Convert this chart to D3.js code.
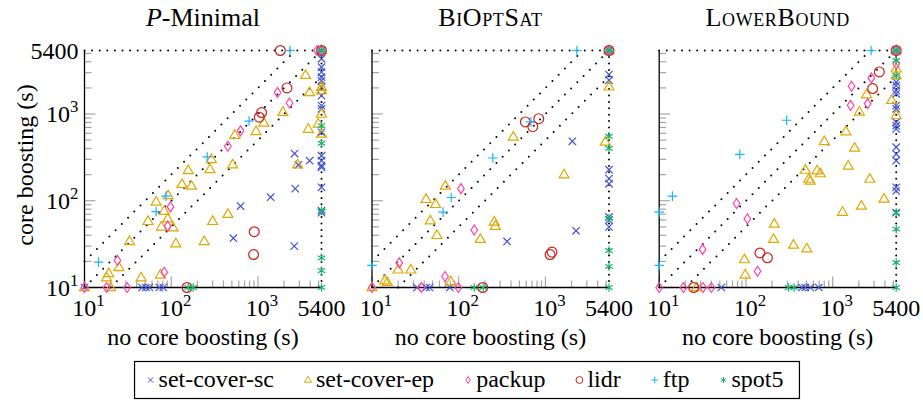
<!DOCTYPE html>
<html>
<head>
<meta charset="utf-8">
<script src="https://cdn.jsdelivr.net/npm/d3@7"></script>
<style>
  body { margin: 0; background: #fff; }
  svg text { font-family: "Liberation Serif", "DejaVu Serif", serif; fill: #000; }
</style>
</head>
<body>
<div id="chart"></div>
<script>
// Series names (legend order)
const seriesNames = ["set-cover-sc", "set-cover-ep", "packup", "lidr", "ftp", "spot5"];

// P-Minimal: [no core boosting, core boosting] in seconds
const pMinSc = [[10,10],[46,10],[51,10],[56,10],[73,10],[81,10],[2640,350],[2920,260],[3940,290],[2690,138],[1400,110],[630,87],[520,37],[2620,30],
  [5400,4330],[5400,3470],[5400,3040],[5400,2660],[5400,2430],[5400,2040],[5400,1630],[5400,1250],[5400,1150],[5400,616],[5400,331],[5400,290],[5400,254],[5400,243],[5400,143],[5400,77],[5400,73],[5400,5400]];
const pMinEp = [[10,10],[20,10],[157,224],[133,155],[171,148],[92,115],[67,97],[83,76],[54,58],[91,62],[77,50],[105,49],[113,32],[33,34],[25,17],[19,14.5],[18,13],[45,13],[75,14],
  [240,34],[450,70],[300,58],[290,300],[280,230],[510,260],[540,570],[950,630],[1170,790],[1940,1050],[3540,2800],[3940,1770],[3800,670],[4950,770],[2860,260],
  [5400,2040],[5400,1860],[5400,1000],[5400,590],[5400,5400]];
const pMinPackup = [[10,10],[18,10],[31,10],[24,20.5],[83,15],[91,51],[98,85],[450,425],[630,640],[1680,1770],[2310,1340],[4800,5400],[5400,5400]];
const pMinLidr = [[152,10],[890,24],[906,44],[1035,920],[1100,1040],[2160,2000],[1810,5400],[5400,5400]];
const pMinFtp = [[14.5,19.6],[67,75],[87,113],[260,320],[790,830],[2340,5400],[5400,5400]];
const pMinSpot5 = [[157,10],[179,10],[5400,735],[5400,460],[5400,77],[5400,22],[5400,15.6],[5400,10],[5400,5400]];

// BiOptSat
const bioSc = [[33,10],[42,10],[46,10],[79,10],[361,34],[2040,485],[2250,45],
  [5400,2850],[5400,2460],[5400,228],[5400,180],[5400,157],[5400,65],[5400,60],[5400,50],[5400,5400]];
const bioEp = [[10,10],[14,12],[15,11.5],[20,16],[28,16],[81,11.7],[42,104],[54,91],[47,59],[56,40],[70,148],[177,36],[257,57],[264,51],[426,544],[1640,200],[4900,476],[5400,2060],[5400,5400]];
const bioPackup = [[10,10],[37,10],[99,10],[20.6,19.2],[69.5,13.4],[151,46],[106,138],[5400,5400]];
const bioLidr = [[189,10],[1130,24],[1190,25.6],[586,811],[714,716],[837,885],[5400,5400]];
const bioFtp = [[10,18],[66,74],[82,109],[247,311],[680,810],[2300,5400],[5400,5400]];
const bioSpot5 = [[151,10],[192,10],[5400,554],[5400,403],[5400,63],[5400,26.7],[5400,17.5],[5400,10],[5400,5400]];

// LowerBound
const lbSc = [[52,10],[443,10],[483,10],[552,10],[690,10],
  [5400,2330],[5400,2130],[5400,1860],[5400,1710],[5400,1250],[5400,1150],[5400,804],[5400,735],[5400,673],[5400,414],[5400,346],[5400,290],[5400,143],[5400,130],[5400,73],[5400,5400]];
const lbEp = [[27,10],[96,21],[98,14],[208,36],[212,54],[354,31],[503,28],[483,226],[659,222],[719,206],[530,178],[552,169],[800,483],[1300,74],[1420,626],[1510,252],[1790,406],
  [2030,1060],[2140,87],[2460,1675],[2680,178],[3910,105],[4780,1440],[5400,3320],[5400,2780],[5400,960],[5400,5400]];
const lbPackup = [[10,10],[19,10],[32,10],[40,10],[31.6,27.5],[78,93],[104,62],[136,15.4],[1610,1260],[1650,2090],[2530,1320],[2790,2610],[5400,3790],[5400,5400]];
const lbLidr = [[25,10],[145,25],[177,22],[2890,1965],[3450,3060],[5400,5400]];
const lbFtp = [[10,18],[10,74],[14.2,113],[85,343],[294,848],[2770,5400],[5400,5400]];
const lbSpot5 = [[310,10],[360,10],[5400,4140],[5400,2780],[5400,73],[5400,47],[5400,19.4],[5400,10],[5400,5400]];

const majorTicks = [10, 100, 1000];
const minorTicks = [20,30,40,50,60,70,80,90,200,300,400,500,600,700,800,900,2000,3000,4000,5000];

const colors = ["#4152d8", "#e0a800", "#ff40a8", "#c8201a", "#19b5fe", "#19b46a"];

// Vakiot
const width = 923, height = 400;
const panelSize = 237;
const panelTop = 50.5;
const panelLeft = [84.5, 372, 659.2];
const fontSize = 24;
const titleSize = 26;
const fontFamily = "Liberation Serif, DejaVu Serif, serif";

const panels = [
  {title: "P-Minimal", series: [pMinSc, pMinEp, pMinPackup, pMinLidr, pMinFtp, pMinSpot5]},
  {title: "BiOptSat", series: [bioSc, bioEp, bioPackup, bioLidr, bioFtp, bioSpot5]},
  {title: "LowerBound", series: [lbSc, lbEp, lbPackup, lbLidr, lbFtp, lbSpot5]}
];

// Marker shapes, k = scale
const shapes = [
  k => `M${-3.7*k},${-3.7*k}L${3.7*k},${3.7*k}M${-3.7*k},${3.7*k}L${3.7*k},${-3.7*k}`,
  k => `M0,${-5.4*k}L${5*k},${3.2*k}L${-5*k},${3.2*k}Z`,
  k => `M0,${-5*k}L${3.3*k},0L0,${5*k}L${-3.3*k},0Z`,
  k => d3.arc()({innerRadius: 0, outerRadius: 4.9*k, startAngle: 0, endAngle: 2*Math.PI}),
  k => `M${-4.8*k},0H${4.8*k}M0,${-4.8*k}V${4.8*k}`,
  k => {
    let s = "";
    for (let a of [90, 30, 150]) {
      const r = a * Math.PI / 180, dx = Math.cos(r)*4.3*k, dy = Math.sin(r)*4.3*k;
      s += `M${-dx},${-dy}L${dx},${dy}`;
    }
    return s;
  }
];

const svg = d3.select("#chart").append("svg")
  .attr("width", width)
  .attr("height", height)
  .attr("font-family", fontFamily);

const x = d3.scaleLog().domain([10, 5400]).range([0, panelSize]);
const y = d3.scaleLog().domain([10, 5400]).range([panelSize, 0]);

function tickLabel(sel, v) {
  if (v === 5400) { sel.text("5400"); return; }
  const e = Math.round(Math.log10(v));
  sel.text("10");
  sel.append("tspan").attr("dy", -10).attr("font-size", fontSize * 0.7).text(e);
}

panels.forEach((p, pi) => {
  const g = svg.append("g").attr("transform", `translate(${panelLeft[pi]},${panelTop})`);

  // Title
  const title = g.append("text")
    .attr("x", panelSize / 2)
    .attr("y", 26 - panelTop)
    .attr("text-anchor", "middle")
    .attr("font-size", titleSize);
  if (pi === 0) {
    title.append("tspan").attr("font-style", "italic").text("P");
    title.append("tspan").text("-Minimal");
  } else {
    title.style("font-variant", "small-caps").style("letter-spacing", "0.6px").text(p.title);
  }

  // Ticks (inside, gray)
  const tickColor = "#a6a6a6";
  g.selectAll(".xminor").data(minorTicks).join("line")
    .attr("x1", d => x(d)).attr("x2", d => x(d))
    .attr("y1", panelSize).attr("y2", panelSize - 7)
    .attr("stroke", tickColor).attr("stroke-width", 1.2);
  g.selectAll(".xmajor").data(majorTicks).join("line")
    .attr("x1", d => x(d)).attr("x2", d => x(d))
    .attr("y1", panelSize).attr("y2", panelSize - 11)
    .attr("stroke", tickColor).attr("stroke-width", 1.2);
  g.selectAll(".yminor").data(minorTicks).join("line")
    .attr("y1", d => y(d)).attr("y2", d => y(d))
    .attr("x1", 0).attr("x2", 7)
    .attr("stroke", tickColor).attr("stroke-width", 1.2);
  g.selectAll(".ymajor").data(majorTicks).join("line")
    .attr("y1", d => y(d)).attr("y2", d => y(d))
    .attr("x1", 0).attr("x2", 11)
    .attr("stroke", tickColor).attr("stroke-width", 1.2);

  // Dotted timeout borders and diagonals
  const dotted = (x1, y1, x2, y2, gap) => g.append("line")
    .attr("x1", x(x1)).attr("y1", y(y1)).attr("x2", x(x2)).attr("y2", y(y2))
    .attr("stroke", "#000").attr("stroke-width", 2)
    .attr("stroke-linecap", "round").attr("stroke-dasharray", `0 ${gap}`);
  dotted(10, 5400, 5400, 5400, 7.6);
  dotted(5400, 10, 5400, 5400, 6.4);
  dotted(10, 10, 5400, 5400, 8.8);
  dotted(10, 20, 2700, 5400, 8.8);
  dotted(20, 10, 5400, 2700, 8.8);

  // Solid axes
  g.append("line").attr("x1", 0).attr("x2", 0).attr("y1", 0).attr("y2", panelSize)
    .attr("stroke", "#000").attr("stroke-width", 1.3);
  g.append("line").attr("x1", 0).attr("x2", panelSize).attr("y1", panelSize).attr("y2", panelSize)
    .attr("stroke", "#000").attr("stroke-width", 1.3);

  // Markers
  p.series.forEach((data, si) => {
    g.append("g").selectAll("path").data(data).join("path")
      .attr("transform", d => `translate(${x(d[0])},${y(d[1])})`)
      .attr("d", shapes[si](1))
      .attr("fill", "none")
      .attr("stroke", colors[si])
      .attr("stroke-width", 1.2);
  });

  // X tick labels
  [10, 100, 1000, 5400].forEach(v => {
    g.append("text")
      .attr("x", x(v) + (v === 5400 ? 0 : 4))
      .attr("y", 316 - panelTop)
      .attr("text-anchor", "middle")
      .attr("font-size", fontSize)
      .call(tickLabel, v);
  });
  // X label
  g.append("text")
    .attr("x", panelSize / 2)
    .attr("y", 345 - panelTop)
    .attr("text-anchor", "middle")
    .attr("font-size", fontSize)
    .text("no core boosting (s)");

  if (pi === 0) {
    [10, 100, 1000, 5400].forEach(v => {
      g.append("text")
        .attr("x", -6)
        .attr("y", y(v) + 8)
        .attr("text-anchor", "end")
        .attr("font-size", fontSize)
        .call(tickLabel, v);
    });
    g.append("text")
      .attr("transform", `translate(${25 - panelLeft[0]},${165 - panelTop}) rotate(-90)`)
      .attr("text-anchor", "middle")
      .attr("dominant-baseline", "central")
      .attr("font-size", fontSize)
      .text("core boosting (s)");
  }
});

// Legend
const legendG = svg.append("g");
let cx = 0;
seriesNames.forEach((name, i) => {
  const item = legendG.append("g").attr("transform", `translate(${cx},0)`);
  item.append("path").attr("d", shapes[i](0.7))
    .attr("fill", "none").attr("stroke", colors[i]).attr("stroke-width", 1);
  const t = item.append("text").attr("x", 8).attr("y", 7).attr("font-size", fontSize).text(name);
  cx += 8 + t.node().getComputedTextLength() + 34;
});
const legendWidth = cx - 34 + 4;
const legendX = 465 - legendWidth / 2 + 4;
legendG.attr("transform", `translate(${legendX},380)`);
svg.insert("rect", "g")
  .attr("x", legendX - 16).attr("y", 361.5)
  .attr("width", legendWidth + 28).attr("height", 37)
  .attr("fill", "none").attr("stroke", "#000").attr("stroke-width", 1.2);
</script>
</body>
</html>
